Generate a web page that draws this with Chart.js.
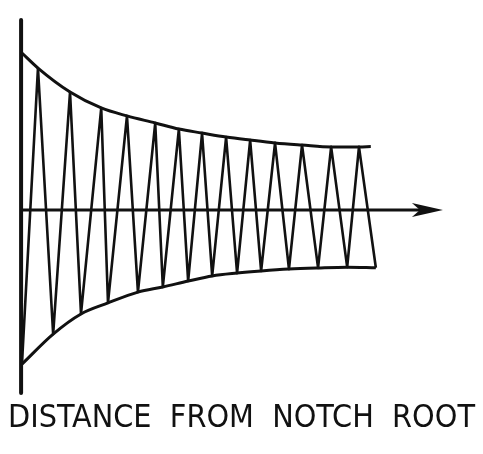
<!DOCTYPE html>
<html>
<head>
<meta charset="utf-8">
<script src="https://cdn.jsdelivr.net/npm/chart.js@4/dist/chart.umd.min.js"></script>
<style>
  html, body { margin: 0; padding: 0; background: #fff; }
  #wrap { width: 483px; height: 454px; }
</style>
</head>
<body>
<div id="wrap"><canvas id="c" width="483" height="454"></canvas></div>
<script>
// Alternating stress cycle: start at the root, then peak / trough pairs
const cycleX = [0.2, 4.0, 7.6, 11.6, 14.2, 19.0, 20.6, 25.1, 27.7, 31.8, 33.6, 37.4, 39.6,
                42.9, 45.3, 48.6, 51.2, 54.3, 56.9, 60.2, 63.5, 66.6, 70.4, 73.5, 77.3, 80.1, 84.1];
const cycleY = [-81.1, 74.7, -65.3, 62.1, -54.7, 53.7, -48.9, 49.5, -43.2, 45.8, -40.5, 42.6, -37.4,
                40.5, -34.7, 38.4, -33.2, 36.8, -32.1, 35.3, -31.1, 34.2, -30.5, 33.2, -30.1, 33.2, -30.4];

// Upper (tensile) envelope
const upperX = [0.2, 4.0, 11.6, 19.0, 25.1, 31.8, 37.4, 42.9, 48.6, 54.3, 60.2, 66.6, 73.5, 80.1, 82.9];
const upperY = [82.6, 74.7, 62.1, 53.7, 49.5, 45.8, 42.6, 40.5, 38.4, 36.8, 35.3, 34.2, 33.2, 33.2, 33.4];

// Lower (compressive) envelope
const lowerX = [0.2, 7.6, 14.2, 20.6, 27.7, 33.6, 39.6, 45.3, 51.2, 56.9, 63.5, 70.4, 77.3, 84.1];
const lowerY = [-81.1, -65.3, -54.7, -48.9, -43.2, -40.5, -37.4, -34.7, -33.2, -32.1, -31.1, -30.5, -30.1, -30.4];

// Axes extents
const axisTop = 100;
const axisBottom = -96.3;
const axisEnd = 100;

const xAxisLabel = 'DISTANCE  FROM  NOTCH  ROOT';

const ink = '#111';
const pts = (xs, ys) => xs.map((x, i) => ({ x: x, y: ys[i] }));

// Arrowhead on the distance axis
const arrowHead = {
  id: 'arrowHead',
  afterDatasetsDraw(chart) {
    const { ctx, scales } = chart;
    const tipX = scales.x.getPixelForValue(axisEnd);
    const y0 = scales.y.getPixelForValue(0);
    ctx.save();
    ctx.fillStyle = ink;
    ctx.beginPath();
    ctx.moveTo(tipX, y0);
    ctx.lineTo(tipX - 31, y0 - 7);
    ctx.lineTo(tipX - 23, y0);
    ctx.lineTo(tipX - 31, y0 + 7);
    ctx.closePath();
    ctx.fill();
    ctx.restore();
  }
};

new Chart(document.getElementById('c'), {
  type: 'scatter',
  data: {
    datasets: [
      {
        data: pts([0, 0], [axisBottom, axisTop]),
        showLine: true, borderColor: ink, borderWidth: 4, borderCapStyle: 'round',
        pointRadius: 0, clip: false
      },
      {
        data: pts([0, axisEnd - 5], [0, 0]),
        showLine: true, borderColor: ink, borderWidth: 3,
        pointRadius: 0, clip: false
      },
      {
        data: pts(upperX, upperY),
        showLine: true, borderColor: ink, borderWidth: 3,
        cubicInterpolationMode: 'monotone', pointRadius: 0, clip: false
      },
      {
        data: pts(lowerX, lowerY),
        showLine: true, borderColor: ink, borderWidth: 3,
        cubicInterpolationMode: 'monotone', pointRadius: 0, clip: false
      },
      {
        data: pts(cycleX, cycleY),
        showLine: true, borderColor: ink, borderWidth: 2.6, tension: 0,
        borderJoinStyle: 'round', pointRadius: 0, clip: false
      }
    ]
  },
  options: {
    responsive: false,
    animation: false,
    devicePixelRatio: 1,
    layout: { padding: 0 },
    scales: {
      x: { type: 'linear', display: false, min: -5, max: 109.5 },
      y: { type: 'linear', display: false, min: -96.3, max: 110.5 }
    },
    plugins: {
      legend: { display: false },
      tooltip: { enabled: false },
      title: {
        display: true,
        position: 'bottom',
        text: xAxisLabel,
        color: ink,
        font: { family: '"DejaVu Sans Condensed", "Liberation Sans", sans-serif', size: 32, weight: 'normal', lineHeight: 1 },
        padding: { top: 10, bottom: 19 }
      }
    }
  },
  plugins: [arrowHead]
});
</script>
</body>
</html>
